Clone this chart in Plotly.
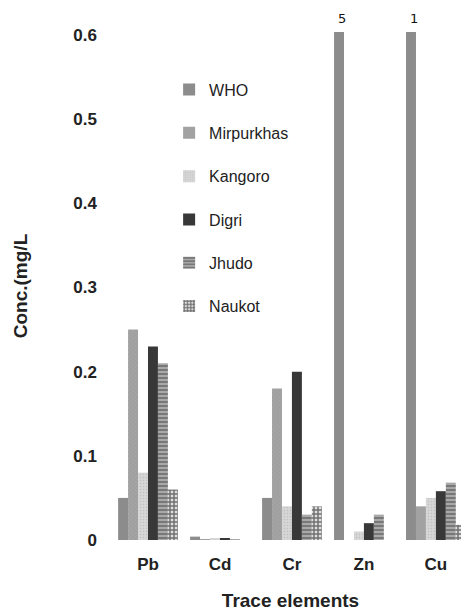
import plotly.graph_objects as go

elements = ["Pb", "Cd", "Cr", "Zn", "Cu"]
WHO = [0.05, 0.004, 0.05, 5, 1]
Mirpurkhas = [0.25, 0.001, 0.18, 0, 0.04]
Kangoro = [0.08, 0.002, 0.04, 0.01, 0.05]
Digri = [0.23, 0.002, 0.20, 0.02, 0.058]
Jhudo = [0.21, 0.001, 0.03, 0.03, 0.068]
Naukot = [0.06, 0.0, 0.04, 0.0, 0.018]
y_ticks = [0, 0.1, 0.2, 0.3, 0.4, 0.5, 0.6]

series = [
    ("WHO", WHO, dict(color="#8c8c8c")),
    ("Mirpurkhas", Mirpurkhas, dict(color="#9c9c9c", pattern=dict(shape="x", fgcolor="#7a7a7a", bgcolor="#a4a4a4", size=3, solidity=0.15))),
    ("Kangoro", Kangoro, dict(color="#d2d2d2", pattern=dict(shape=".", fgcolor="#a8a8a8", bgcolor="#d6d6d6", size=3, solidity=0.2))),
    ("Digri", Digri, dict(color="#383838")),
    ("Jhudo", Jhudo, dict(color="#888888", pattern=dict(shape="-", fgcolor="#1e1e1e", bgcolor="#a8a8a8", size=4, solidity=0.35))),
    ("Naukot", Naukot, dict(color="#ffffff", pattern=dict(shape="+", fgcolor="#000000", bgcolor="#e0e0e0", size=4, solidity=0.6))),
]

# page body has an 8px margin, so the figure is 8px smaller than the window
W, H = 461, 604
ML, MR, MT, MB = 104, 0, 24, 72
YMAX = 0.6036
XRANGE = [-0.5, 4.46]
BARGAP = 0.17

fig = go.Figure()
for name, vals, marker in series:
    fig.add_trace(go.Bar(
        name=name, x=elements, y=vals, marker=dict(line=dict(width=0), **marker),
        legendgroup=name,
    ))

# labels for WHO bars exceeding axis range
plot_w = W - ML - MR
cat_w = plot_w / (XRANGE[1] - XRANGE[0])
bar_w = cat_w * (1 - BARGAP) / len(series)
for el, v in zip(elements, WHO):
    if v > YMAX:
        fig.add_annotation(
            x=el, y=YMAX, xref="x", yref="y", text=str(v), showarrow=False,
            yanchor="bottom", xshift=-2.5 * bar_w + 3, yshift=4,
            font=dict(family="DejaVu Sans", size=13, color="#111"),
        )

fig.update_layout(
    width=W, height=H,
    margin=dict(l=ML, r=MR, t=MT, b=MB, autoexpand=False),
    barmode="group", bargap=BARGAP, bargroupgap=0,
    plot_bgcolor="white", paper_bgcolor="white",
    font=dict(family="Liberation Sans", color="#222"),
    showlegend=True,
    legend=dict(
        x=0.16, y=0.92, xanchor="left", yanchor="top",
        bgcolor="rgba(0,0,0,0)", font=dict(size=16, color="#222"),
        tracegroupgap=19.5, itemwidth=30,
    ),
)
fig.update_xaxes(
    range=XRANGE,
    showgrid=False, showline=False, zeroline=False, ticks="",
    tickfont=dict(size=17, weight="bold"), ticklabelstandoff=12,
    title=dict(text="Trace elements", font=dict(size=19, weight="bold"), standoff=20),
)
fig.update_yaxes(
    range=[0, YMAX], showgrid=False, showline=False, zeroline=False, ticks="",
    tickvals=y_ticks, ticktext=[f"{t:g}" for t in y_ticks],
    tickfont=dict(size=17, weight="bold"), ticklabelstandoff=14,
    title=dict(text="Conc.(mg/L", font=dict(size=19, weight="bold"), standoff=40),
)

fig.write_html("out.html")
